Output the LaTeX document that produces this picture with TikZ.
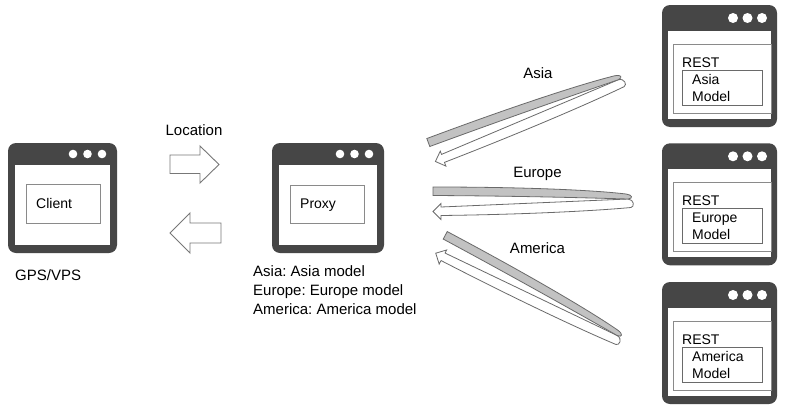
\documentclass[tikz,border=0pt]{standalone}
\usepackage{fontspec}
\setmainfont{Liberation Sans}
\frenchspacing
\definecolor{framecol}{HTML}{464646}
\definecolor{edgecol}{HTML}{8A8A8A}
\definecolor{arrowedge}{HTML}{777777}
\definecolor{bandcol}{HTML}{C2C2C2}
\definecolor{bandedge}{HTML}{6A6A6A}
\tikzset{
  innerbox/.style={draw=edgecol, line width=0.9, fill=white},
  lbl/.style={font=\fontsize{15}{18}\selectfont, inner sep=0, anchor=base},
  lblw/.style={font=\fontsize{15}{18}\selectfont, inner sep=0, anchor=base west},
  boxtxt/.style={font=\fontsize{14}{17}\selectfont, inner sep=0, anchor=base west},
  blockarrow/.style={draw=arrowedge, fill=white, line width=0.9, line join=miter},
  ribwhite/.style={draw=bandedge, fill=white, line width=0.8, line join=miter},
  ribgray/.style={draw=bandedge, fill=bandcol, line width=0.8},
}
% #1 x0, #2 y0, #3 x1, #4 y1, #5 title bottom, #6 side thickness, #7 dot radius
\newcommand{\mywin}[7]{%
  \fill[framecol, rounded corners=8] (#1,#2) rectangle (#3,#4);
  \fill[white] ({#1+#6},#5) rectangle ({#3-#6},{#4-8});
  \foreach \dd in {15,29.5,44} \fill[white] ({#3-\dd},{(#2+#5)/2}) circle (#7);
}
\newcommand{\myribbon}{%
  \draw[ribwhite] (8,19.5) .. controls (90,16) and (160,13) .. (195,11.5)
    .. controls (201.5,12) and (201.5,19.5) .. (198,20)
    .. controls (160,23.5) and (90,27) .. (8,28)
    -- (8,32) -- (0,24) -- (8,16) -- cycle;
  \draw[ribgray] (0,-0.5) .. controls (90,-0.5) and (160,2.5) .. (193,6.5)
    .. controls (199.5,7.3) and (200.5,11) .. (195,11.5)
    .. controls (160,10.5) and (90,8.5) .. (0,8) -- cycle;
}
\begin{document}
\begin{tikzpicture}[x=1pt,y=-1pt]
\useasboundingbox (0,0) rectangle (788,410);
\fill[white] (0,0) rectangle (788,410);

% Client window
\mywin{8}{143}{117}{253}{165}{7}{4.3}
\draw[innerbox] (26,184) rectangle (100,223);
\node[boxtxt] (client) at (36,208) {Client};
\node[lblw] (gps) at (15,280.5) {GPS/VPS};

% block arrows
\node[lbl] (loc) at (194,135) {Location};
\draw[blockarrow] (170,155) -- (200,155) -- (200,146) -- (219,164.5) -- (200,183) -- (200,173.5) -- (170,173.5) -- cycle;
\draw[blockarrow] (221,223) -- (190,223) -- (190,213) -- (170,233) -- (190,253) -- (190,243) -- (221,243) -- cycle;

% Proxy window
\mywin{272}{143}{384}{253}{165}{7}{4.3}
\draw[innerbox] (290,185) rectangle (364,223);
\node[boxtxt] (proxy) at (300,208) {Proxy};
\node[lblw] (m1) at (253,276.7) {Asia: Asia model};
\node[lblw] (m2) at (253,295.7) {Europe: Europe model};
\node[lblw] (m3) at (253,314.5) {America: America model};

% ribbons
\begin{scope}[shift={(427,139)}, rotate=20.5, xscale=1.025]
  \myribbon
\end{scope}
\begin{scope}[shift={(433,187.5)}]
  \myribbon
\end{scope}
\begin{scope}[shift={(447,232)}, rotate=-28, xscale=1.02]
  \myribbon
\end{scope}
\node[lbl] (la) at (538,78) {Asia};
\node[lbl] (le) at (537.5,177.5) {Europe};
\node[lbl] (lam) at (537.5,253) {America};

% Servers
\foreach \y/\reg/\nm in {5/Asia/sa, 143.3/Europe/se, 282/America/sm}{
  \mywin{662}{\y}{777}{\y+122}{\y+26}{6}{5}
  \draw[innerbox] (673,\y+39.5) rectangle (771,\y+108.5);
  \node[boxtxt] (\nm-rest) at (682,\y+62) {REST};
  \draw[innerbox, draw=bandedge] (682,\y+65) rectangle (762,\y+100);
  \node[boxtxt] (\nm-reg) at (692,\y+79.5) {\reg};
  \node[boxtxt] (\nm-mod) at (692,\y+96) {Model};
}
\end{tikzpicture}
\end{document}
